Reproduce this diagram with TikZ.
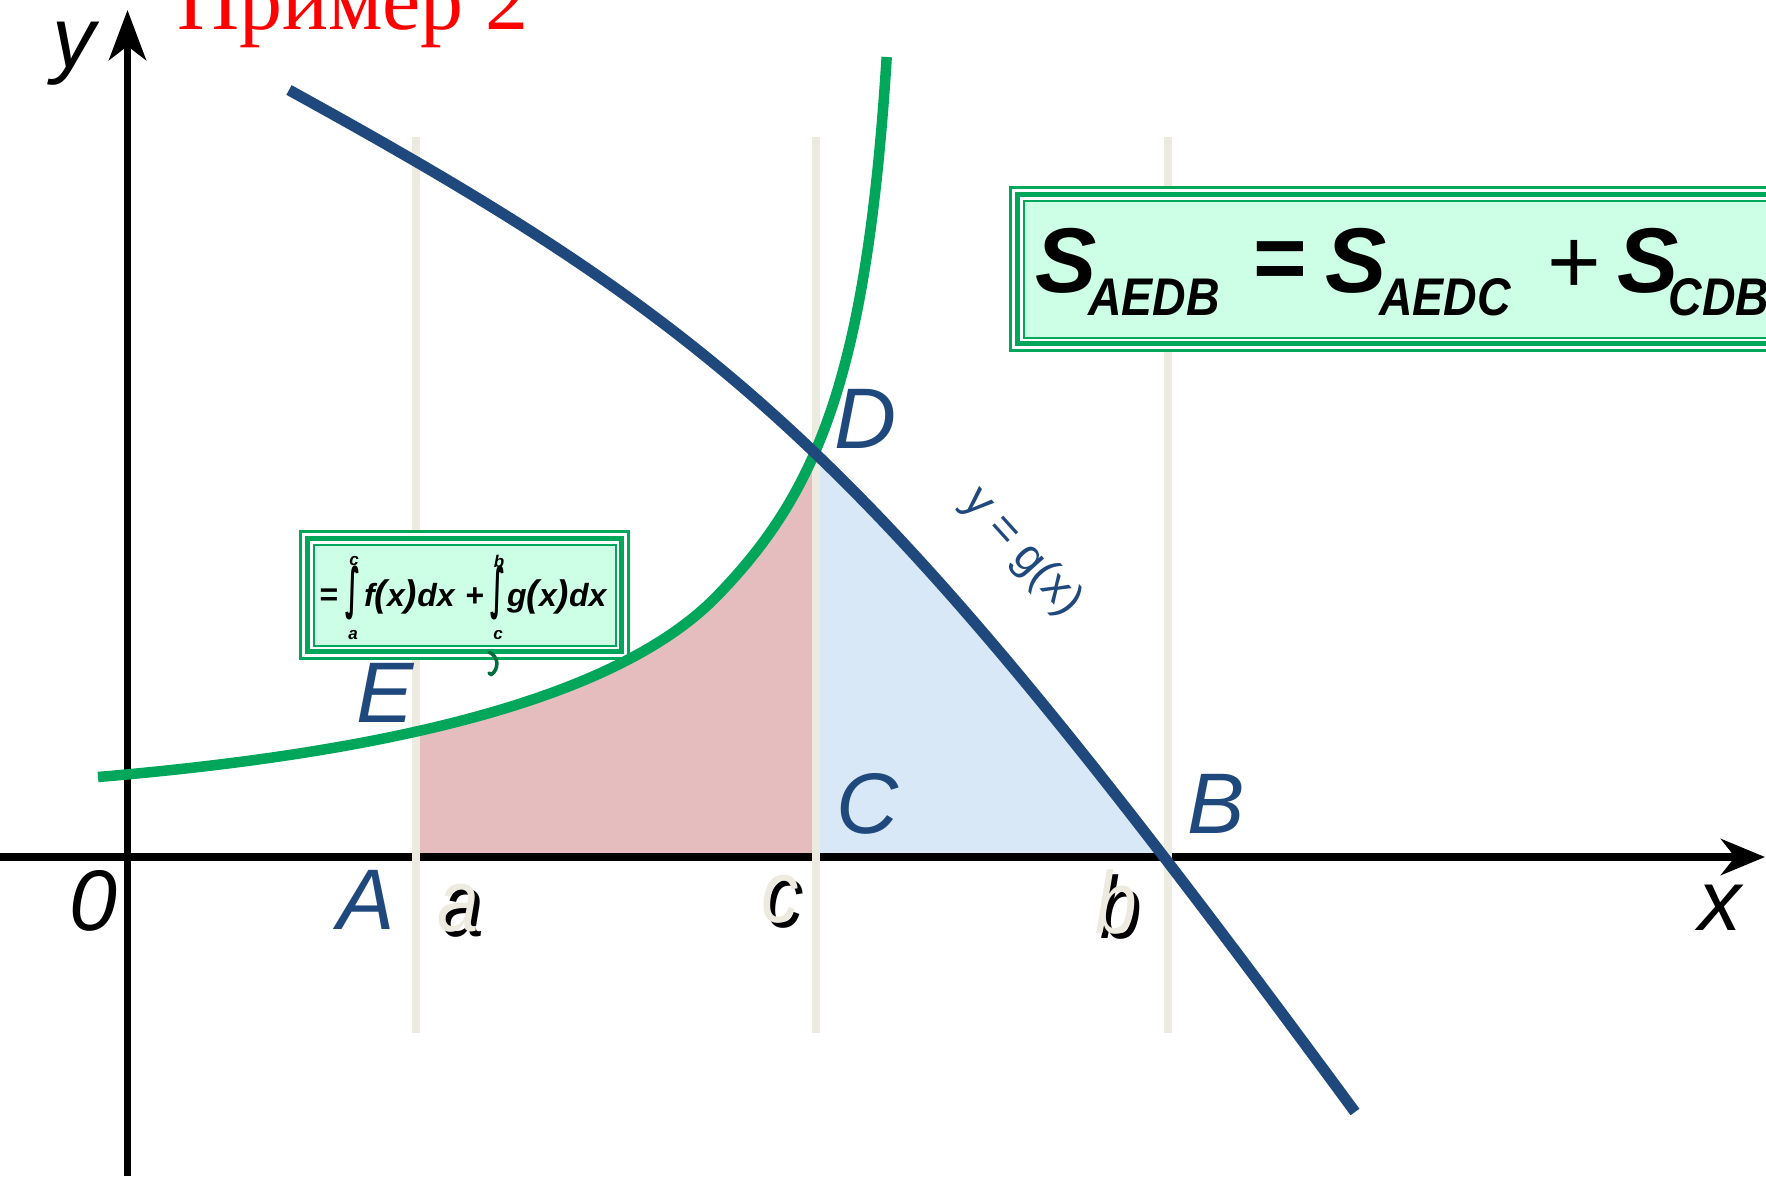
\documentclass[tikz,border=0pt]{standalone}
\usepackage{fontspec}
\usepackage{graphicx}
\setmainfont{Liberation Sans}
\newfontfamily\serifru{Liberation Serif}
\newfontfamily\dejavu{DejaVu Sans}
\usetikzlibrary{arrows.meta}
\definecolor{lblue}{RGB}{31,73,125}
\definecolor{cgreen}{RGB}{0,166,90}
\definecolor{bgreen}{RGB}{0,166,90}
\definecolor{mint}{RGB}{204,255,229}
\definecolor{beige}{RGB}{237,234,224}
\definecolor{pinkfill}{RGB}{229,189,190}
\definecolor{bluefill}{RGB}{216,232,247}
\definecolor{sqgreen}{RGB}{0,110,60}
\newcommand{\bigpar}[1]{{\fontsize{37}{37}\selectfont #1}}
\begin{document}
\begin{tikzpicture}[x=1pt,y=-1pt,
  lbl/.style={inner sep=0pt, text=lblue, font=\fontsize{86}{86}\selectfont\itshape},
  axlbl/.style={inner sep=0pt, text=black, font=\fontsize{86}{86}\selectfont\itshape},
  abcb/.style={inner sep=0pt, text=black, xscale=0.85, font=\fontsize{88}{88}\selectfont\itshape},
  abcw/.style={inner sep=0pt, text=beige, xscale=0.85, font=\fontsize{88}{88}\selectfont\itshape},
  axisline/.style={line width=7.5pt, black},
  beigeline/.style={line width=8pt, beige},
  gcurve/.style={line width=10.5pt, cgreen},
  bcurve/.style={line width=11pt, lblue},
  fml/.style={inner sep=0pt, font=\fontsize{32}{32}\selectfont\bfseries\itshape},
  fmlup/.style={inner sep=0pt, font=\fontsize{32}{32}\selectfont\bfseries},
  lim/.style={inner sep=0pt, font=\fontsize{17}{17}\selectfont\bfseries\itshape},
  bigs/.style={inner sep=0pt, anchor=base, font=\fontsize{92}{92}\selectfont\bfseries\itshape},
  subs/.style={inner sep=0pt, anchor=base, xscale=0.876, font=\fontsize{53}{53}\selectfont\bfseries\itshape},
  gl/.style={fill=bgreen}, wl/.style={fill=white}, ml/.style={fill=mint}]
\useasboundingbox (0,0) rectangle (1766,1176);
\clip (0,0) rectangle (1766,1176);
\fill[white] (0,0) rectangle (1766,1176);

% filled regions
\begin{scope}
\clip (416,0) rectangle (815,857);
\fill[pinkfill] (98,777) .. controls (348,755.75) and (607,709.3) .. (717,596) .. controls (817,493) and (866.7,377) .. (886.7,57) -- (886.7,1300) -- (98,1300) -- cycle;
\end{scope}
\begin{scope}
\clip (815,0) rectangle (1400,857);
\fill[bluefill] (289,90) .. controls (739,337.5) and (875,459) .. (1355,1112) -- (1355,1300) -- (289,1300) -- cycle;
\end{scope}

% axes
\coordinate (ybot) at (127.5,1176);
\coordinate (ytop) at (127.5,10);
\coordinate (xleft) at (0,857);
\coordinate (xright) at (1765,857);
\draw[axisline, -{Stealth[length=50pt,width=37pt,inset=14pt]}] (ybot) -- (ytop);
\draw[axisline, -{Stealth[length=44pt,width=36pt,inset=14pt]}] (xleft) -- (xright);

% vertical guide lines
\draw[beigeline] (416,137) -- (416,1033);
\draw[beigeline] (815.5,137) -- (815.5,1033);
\draw[beigeline] (1168,137) -- (1168,1033);

% box 1
\fill[gl] (299,530) rectangle (630,660);
\fill[wl] (302,533) rectangle (627,657);
\fill[gl] (305,536) rectangle (624,654);
\fill[wl] (310,541) rectangle (619,649);
\fill[gl] (312.5,543.5) rectangle (616.5,646.5);
\fill[ml] (314.5,545.5) rectangle (614.5,644.5);
\draw[sqgreen, line width=3.5pt, line cap=round] (489,652) .. controls (499,657) and (498,667) .. (494,672) .. controls (492,675) and (490,675) .. (489,673);

% box 2
\fill[gl] (1009,186) rectangle (1800,352);
\fill[wl] (1012,189) rectangle (1800,349);
\fill[gl] (1015,192) rectangle (1800,346);
\fill[wl] (1020,197) rectangle (1800,341);
\fill[gl] (1022.5,199.5) rectangle (1800,338.5);
\fill[ml] (1024.5,201.5) rectangle (1800,336.5);

% curves
\draw[gcurve] (98,777) .. controls (348,755.75) and (607,709.3) .. (717,596) .. controls (817,493) and (866.7,377) .. (886.7,57);
\draw[bcurve] (289,90) .. controls (739,337.5) and (875,459) .. (1355,1112);

% title
\node[inner sep=0pt, anchor=base west, text=red, font=\fontsize{86}{86}\selectfont\serifru] (title) at (177,29) {Пример 2};

% axis labels
\node[axlbl] (ylab) at (74,54) {y};
\node[axlbl] (xlab) at (1720,908) {x};
\node[axlbl] (olab) at (93,901) {0};

% point labels
\node[lbl] (Alab) at (366,900) {A};
\node[lbl] (Elab) at (385,693) {E};
\node[lbl] (Dlab) at (866,419) {D};
\node[lbl] (Clab) at (868,804) {C};
\node[lbl] (Blab) at (1216,804) {B};
\node[lbl, font=\fontsize{46}{46}\selectfont, rotate=-48] (glab) at (1022,552) {y = g(x)};

% a, c, b with shadow
\node[abcb] (ablk) at (463,913) {a};
\node[abcw] (awht) at (458,908) {a};
\node[abcb] (cblk) at (785,904) {c};
\node[abcw] (cwht) at (780,899) {c};
\node[abcb] (bblk) at (1121,907) {b};
\node[abcw] (bwht) at (1116,902) {b};

% formula in box 1
\node[fmlup] (feq) at (329,597) {=};
\node[inner sep=0pt] (fint1) at (352.5,593) {\resizebox*{15pt}{54pt}{\dejavu\bfseries ∫}};
\node[lim] (fc1) at (354,561) {c};
\node[lim] (fa1) at (353,635) {a};
\node[fml, anchor=base west] (ffx) at (364,606) {f\bigpar{(}x\bigpar{)}dx};
\node[fmlup] (fplus) at (475,597) {+};
\node[inner sep=0pt] (fint2) at (497.5,593) {\resizebox*{15pt}{54pt}{\dejavu\bfseries ∫}};
\node[lim] (fb2) at (499,561) {b};
\node[lim] (fc2) at (498,635) {c};
\node[fml, anchor=base west] (fgx) at (507,606) {g\bigpar{(}x\bigpar{)}dx};

% formula in box 2
\node[bigs] (s1) at (1066,292) {S};
\node[subs] (s1s) at (1154,315) {AEDB};
\node[inner sep=0pt, font=\fontsize{92}{92}\selectfont\bfseries] (seq) at (1280,266) {=};
\node[bigs] (s2) at (1356,292) {S};
\node[subs] (s2s) at (1445,315) {AEDC};
\node[inner sep=0pt, font=\fontsize{92}{92}\selectfont] (splus) at (1574,267) {+};
\node[bigs] (s3) at (1648,292) {S};
\node[subs] (s3s) at (1719,315) {CDB};
\end{tikzpicture}
\end{document}
